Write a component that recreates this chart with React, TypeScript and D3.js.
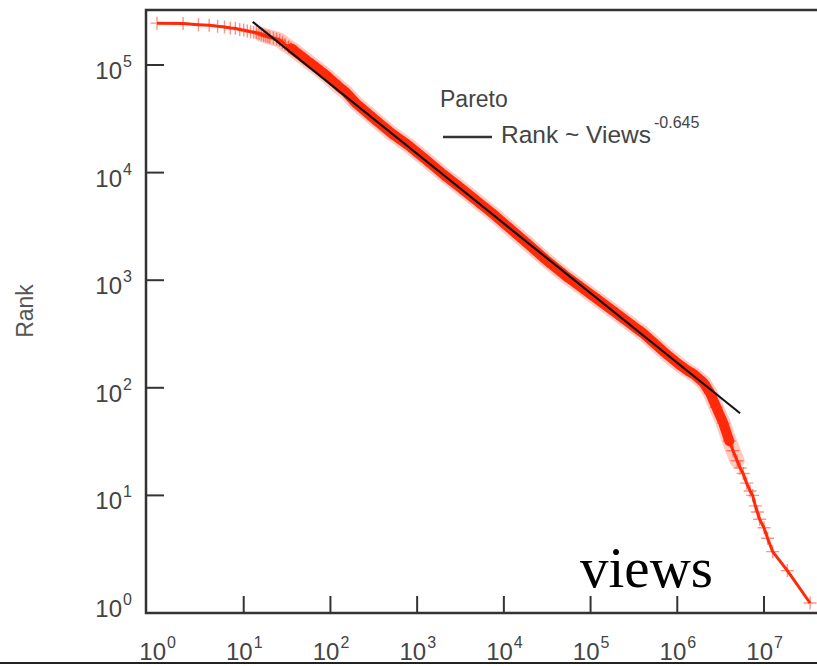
import React, { useEffect, useRef } from "react";
import * as d3 from "d3";

// views / rank (log-log)
const views = [
  1, 2, 3, 4, 5, 6, 7, 8, 9, 10, 11, 12, 13, 14, 15, 16, 17, 18, 19, 20, 22, 24, 26,
  28, 30, 33, 35, 38, 40, 45, 50, 56, 63, 71, 80, 90, 100, 125, 150, 200, 320, 500,
  800, 1260, 2000, 3160, 5000, 7940, 12600, 20000, 31600, 50000, 79400, 126000,
  200000, 316000, 398000, 501000, 708000, 1000000, 1260000, 1580000, 2000000,
  2400000, 2820000, 3390000, 3980000, 4400000, 4900000, 5300000, 5750000, 6300000,
  6920000, 7400000, 7940000, 8400000, 8900000, 10000000, 11000000, 12600000,
  18600000, 34000000,
];
const ranks = [
  245000, 243000, 237000, 234000, 229000, 226000, 221000, 219000, 214000, 211000,
  207000, 204000, 202000, 200000, 196000, 193000, 189000, 186000, 184000, 181000,
  178000, 174000, 170000, 163000, 155000, 148000, 143000, 137000, 132000, 123000,
  115000, 107000, 100000, 93000, 86000, 80000, 74000, 63000, 56000, 43600, 31600,
  23400, 17800, 13200, 9660, 7240, 5370, 3980, 2880, 2090, 1510, 1120, 851, 646, 490,
  372, 324, 275, 214, 170, 148, 132, 112, 89, 66, 47, 32, 26, 21, 18, 16, 13, 11, 10,
  8, 7, 6, 5, 4, 3, 2, 1,
];

// Pareto fit line end points
const fitViews = [12.7, 5300000];
const fitRanks = [252000, 58];
const fitExponent = "-0.645";

const xTickExps = [0, 1, 2, 3, 4, 5, 6, 7];
const yTickExps = [0, 1, 2, 3, 4, 5];

const App = () => {
  const svgRef = useRef<SVGSVGElement>(null);

  useEffect(() => {
    const width = 817;
    const height = 666;
    const left = 146;
    const top = 10;
    const bottom = 613;
    const red = "#ff2a0a";
    const axisColor = "#333";
    const textColor = "#444";
    const sans = "'Liberation Sans', Arial, sans-serif";

    const svg = d3.select(svgRef.current);
    svg.selectAll("*").remove();
    svg.attr("width", width).attr("height", height);

    const x = d3.scaleLog().domain([1, 1e7]).range([157, 764]);
    const y = d3.scaleLog().domain([1, 1e5]).range([603, 65]);

    svg.append("rect").attr("width", width).attr("height", height).attr("fill", "#fff");

    const data = views.map((v, i) => ({ v, r: ranks[i] }));

    const line = d3
      .line<{ v: number; r: number }>()
      .x((d) => x(d.v))
      .y((d) => y(d.r));

    // soft halo of overlapping markers
    svg
      .append("path")
      .datum(data.filter((d) => d.v >= 16 && d.v <= 4900000))
      .attr("fill", "none")
      .attr("stroke", red)
      .attr("stroke-width", 15)
      .attr("stroke-linecap", "round")
      .attr("stroke-linejoin", "round")
      .attr("opacity", 0.25)
      .attr("d", line);

    // dense band where markers overlap
    svg
      .append("path")
      .datum(data.filter((d) => d.v >= 35 && d.v <= 4000000))
      .attr("fill", "none")
      .attr("stroke", red)
      .attr("stroke-width", 10)
      .attr("stroke-linecap", "round")
      .attr("stroke-linejoin", "round")
      .attr("d", line);

    svg
      .append("path")
      .datum(data)
      .attr("fill", "none")
      .attr("stroke", red)
      .attr("stroke-width", 3)
      .attr("stroke-linejoin", "round")
      .attr("d", line);

    // + markers
    const m = 6.5;
    svg
      .append("g")
      .selectAll("path")
      .data(data)
      .enter()
      .append("path")
      .attr(
        "d",
        (d) =>
          `M${x(d.v) - m},${y(d.r)}h${2 * m}M${x(d.v)},${y(d.r) - m}v${2 * m}`
      )
      .attr("stroke", red)
      .attr("stroke-width", 1.4)
      .attr("opacity", 0.5);

    // fit line
    svg
      .append("path")
      .datum(fitViews.map((v, i) => ({ v, r: fitRanks[i] })))
      .attr("fill", "none")
      .attr("stroke", "#151515")
      .attr("stroke-width", 2.2)
      .attr("d", line);

    // frame
    svg
      .append("path")
      .attr("d", `M${width},${top}H${left}V${bottom}H${width}`)
      .attr("fill", "none")
      .attr("stroke", axisColor)
      .attr("stroke-width", 2.5);

    // ticks
    xTickExps.forEach((e) => {
      const tx = x(Math.pow(10, e));
      if (e > 0) {
        svg
          .append("line")
          .attr("x1", tx)
          .attr("x2", tx)
          .attr("y1", bottom)
          .attr("y2", bottom - 17)
          .attr("stroke", axisColor)
          .attr("stroke-width", 2);
      }
      svg
        .append("text")
        .attr("x", tx + 9)
        .attr("y", bottom + 47)
        .attr("text-anchor", "end")
        .attr("font-family", sans)
        .attr("font-size", 24)
        .attr("fill", textColor)
        .text("10");
      svg
        .append("text")
        .attr("x", tx + 10)
        .attr("y", bottom + 35)
        .attr("font-family", sans)
        .attr("font-size", 16)
        .attr("fill", textColor)
        .text(e);
    });

    yTickExps.forEach((e) => {
      const ty = y(Math.pow(10, e));
      if (e > 0) {
        svg
          .append("line")
          .attr("x1", left)
          .attr("x2", left + 18)
          .attr("y1", ty)
          .attr("y2", ty)
          .attr("stroke", axisColor)
          .attr("stroke-width", 2);
      }
      svg
        .append("text")
        .attr("x", 122)
        .attr("y", ty + 14)
        .attr("text-anchor", "end")
        .attr("font-family", sans)
        .attr("font-size", 24)
        .attr("fill", textColor)
        .text("10");
      svg
        .append("text")
        .attr("x", 123)
        .attr("y", ty + 2)
        .attr("font-family", sans)
        .attr("font-size", 16)
        .attr("fill", textColor)
        .text(e);
    });

    // y axis title
    svg
      .append("text")
      .attr("transform", `translate(33,311) rotate(-90)`)
      .attr("text-anchor", "middle")
      .attr("font-family", sans)
      .attr("font-size", 23)
      .attr("fill", "#555")
      .text("Rank");

    // legend
    svg
      .append("text")
      .attr("x", 440)
      .attr("y", 107)
      .attr("font-family", sans)
      .attr("font-size", 23)
      .attr("fill", textColor)
      .text("Pareto");
    svg
      .append("line")
      .attr("x1", 443)
      .attr("x2", 492)
      .attr("y1", 137)
      .attr("y2", 137)
      .attr("stroke", axisColor)
      .attr("stroke-width", 2.5);
    svg
      .append("text")
      .attr("x", 501)
      .attr("y", 143)
      .attr("font-family", sans)
      .attr("font-size", 24.5)
      .attr("fill", textColor)
      .text("Rank ~ Views");
    svg
      .append("text")
      .attr("x", 654)
      .attr("y", 128)
      .attr("font-family", sans)
      .attr("font-size", 16)
      .attr("fill", textColor)
      .text(fitExponent);

    // overlaid caption
    svg
      .append("text")
      .attr("x", 580)
      .attr("y", 587)
      .attr("font-family", "'Liberation Serif', 'Times New Roman', serif")
      .attr("font-size", 57)
      .attr("fill", "#000")
      .text("views");

    // bottom rule
    svg
      .append("line")
      .attr("x1", 0)
      .attr("x2", width)
      .attr("y1", 663)
      .attr("y2", 663)
      .attr("stroke", "#222")
      .attr("stroke-width", 2);
  }, []);

  return (
    <svg
      ref={svgRef}
      style={{ position: "absolute", left: 0, top: 0, display: "block" }}
    />
  );
};

export default App;
